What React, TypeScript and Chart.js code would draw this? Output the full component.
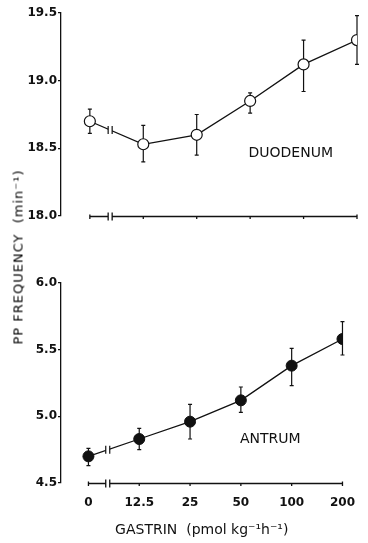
import React, { useEffect, useRef } from 'react';
import { Chart, registerables } from 'chart.js';

Chart.register(...registerables);

// ---- data ----
const doses = ['0', '12.5', '25', '50', '100', '200'];

const duodenumMean = [18.70, 18.53, 18.60, 18.85, 19.12, 19.30];
const duodenumUpper = [18.79, 18.67, 18.75, 18.91, 19.30, 19.48];
const duodenumLower = [18.61, 18.40, 18.45, 18.76, 18.92, 19.12];

const antrumMean = [4.70, 4.83, 4.96, 5.12, 5.38, 5.58];
const antrumUpper = [4.76, 4.91, 5.09, 5.22, 5.51, 5.71];
const antrumLower = [4.63, 4.75, 4.83, 5.03, 5.23, 5.46];

const duodenumTicks = [18.0, 18.5, 19.0, 19.5];
const antrumTicks = [4.5, 5.0, 5.5, 6.0];

const duodenumLabel = 'DUODENUM';
const antrumLabel = 'ANTRUM';
const yTitle = 'PP FREQUENCY\u00a0\u00a0(min\u207b\u00b9)';
const xTitle = 'GASTRIN\u00a0\u00a0(pmol kg\u207b\u00b9h\u207b\u00b9)';

// ---- style ----
const FONT = "'DejaVu Sans', sans-serif";
const INK = '#111';
const BREAK_AT = 0.38; // axis-break position, in category units
const X_MIN = -0.54;
const X_MAX = 5;

function decorPlugin(mean: number[], upper: number[], lower: number[], label: string, labelX: number, labelY: number) {
  return {
    id: 'decor',
    beforeDatasetsDraw(chart: any) {
      const { ctx } = chart;
      const xs = chart.scales.x;
      const ys = chart.scales.y;
      ctx.save();
      ctx.strokeStyle = INK;
      ctx.lineWidth = 1.2;
      upper.forEach((u, i) => {
        const px = xs.getPixelForValue(i);
        const pt = ys.getPixelForValue(u);
        const pb = ys.getPixelForValue(lower[i]);
        ctx.beginPath();
        ctx.moveTo(px, pt);
        ctx.lineTo(px, pb);
        ctx.moveTo(px - 2, pt);
        ctx.lineTo(px + 2, pt);
        ctx.moveTo(px - 2, pb);
        ctx.lineTo(px + 2, pb);
        ctx.stroke();
      });
      ctx.restore();
    },
    afterDatasetsDraw(chart: any) {
      const { ctx, chartArea } = chart;
      const xs = chart.scales.x;
      const ys = chart.scales.y;
      ctx.save();
      // break on the data line
      const x0 = xs.getPixelForValue(0);
      const x1 = xs.getPixelForValue(1);
      const y0 = ys.getPixelForValue(mean[0]);
      const y1 = ys.getPixelForValue(mean[1]);
      const bx = xs.getPixelForValue(BREAK_AT);
      const by = y0 + ((bx - x0) / (x1 - x0)) * (y1 - y0);
      ctx.fillStyle = '#fff';
      ctx.fillRect(bx - 2, by - 4, 4, 8);
      ctx.strokeStyle = INK;
      ctx.lineWidth = 1.2;
      ctx.beginPath();
      ctx.moveTo(bx - 2, by - 4);
      ctx.lineTo(bx - 2, by + 4);
      ctx.moveTo(bx + 2, by - 4);
      ctx.lineTo(bx + 2, by + 4);
      ctx.stroke();

      // x axis line with break
      const ay = chartArea.bottom + 0.5;
      const xe = xs.getPixelForValue(doses.length - 1);
      ctx.lineWidth = 1.3;
      ctx.beginPath();
      ctx.moveTo(x0, ay);
      ctx.lineTo(bx - 2, ay);
      ctx.moveTo(bx + 2, ay);
      ctx.lineTo(xe, ay);
      ctx.moveTo(bx - 2, ay - 4);
      ctx.lineTo(bx - 2, ay + 4);
      ctx.moveTo(bx + 2, ay - 4);
      ctx.lineTo(bx + 2, ay + 4);
      doses.forEach((_, i) => {
        const px = xs.getPixelForValue(i);
        ctx.moveTo(px, ay - (i === 0 || i === doses.length - 1 ? 2 : 0));
        ctx.lineTo(px, ay + 2.5);
      });
      ctx.stroke();

      // panel label
      ctx.fillStyle = INK;
      ctx.font = `14px ${FONT}`;
      ctx.textAlign = 'center';
      ctx.textBaseline = 'middle';
      ctx.fillText(label, xs.getPixelForValue(labelX), ys.getPixelForValue(labelY));
      ctx.restore();
    },
  };
}

function yScale(ticks: number[]) {
  return {
    type: 'linear' as const,
    min: ticks[0],
    max: ticks[ticks.length - 1],
    afterBuildTicks: (s: any) => {
      s.ticks = ticks.map((v) => ({ value: v }));
    },
    afterFit: (s: any) => {
      s.width = 61;
    },
    border: { display: true, color: INK, width: 1.3 },
    grid: { drawOnChartArea: false, drawTicks: true, tickLength: 3, color: INK, lineWidth: 1.2 },
    ticks: {
      padding: 1,
      color: INK,
      font: { family: FONT, size: 12, weight: 'bold' as const },
      callback: (v: any) => Number(v).toFixed(1),
    },
  };
}

export default function App() {
  const topRef = useRef<HTMLCanvasElement>(null);
  const botRef = useRef<HTMLCanvasElement>(null);

  useEffect(() => {
    const top = new Chart(topRef.current as HTMLCanvasElement, {
      type: 'line',
      data: {
        datasets: [
          {
            data: duodenumMean.map((v, i) => ({ x: i, y: v })),
            borderColor: INK,
            borderWidth: 1.3,
            pointRadius: 5.5,
            pointBackgroundColor: '#fff',
            pointBorderColor: INK,
            pointBorderWidth: 1.2,
            tension: 0,
          },
        ],
      },
      options: {
        responsive: false,
        animation: false,
        devicePixelRatio: 1,
        layout: { padding: { top: 13, bottom: 240 - 216, left: 0, right: 11 } },
        plugins: { legend: { display: false }, tooltip: { enabled: false } },
        scales: {
          x: { type: 'linear', min: X_MIN, max: X_MAX, display: false },
          y: yScale(duodenumTicks) as any,
        },
      },
      plugins: [decorPlugin(duodenumMean, duodenumUpper, duodenumLower, duodenumLabel, 3.76, 18.46)],
    });

    const bot = new Chart(botRef.current as HTMLCanvasElement, {
      type: 'line',
      data: {
        datasets: [
          {
            data: antrumMean.map((v, i) => ({ x: i, y: v })),
            borderColor: INK,
            borderWidth: 1.3,
            pointRadius: 5.5,
            pointBackgroundColor: INK,
            pointBorderColor: INK,
            pointBorderWidth: 1,
            tension: 0,
          },
        ],
      },
      options: {
        responsive: false,
        animation: false,
        devicePixelRatio: 1,
        layout: { padding: { top: 283 - 240, bottom: 0, left: 0, right: 11 } },
        plugins: { legend: { display: false }, tooltip: { enabled: false } },
        scales: {
          x: {
            type: 'linear',
            min: X_MIN,
            max: X_MAX,
            afterBuildTicks: (s: any) => {
              s.ticks = doses.map((_, i) => ({ value: i }));
            },
            afterFit: (s: any) => {
              s.height = 60;
            },
            border: { display: false },
            grid: { display: false, drawTicks: false },
            ticks: {
              autoSkip: false,
              maxRotation: 0,
              padding: 13,
              color: INK,
              font: { family: FONT, size: 12, weight: 'bold' },
              callback: (_v: any, i: number) => doses[i],
            },
            title: {
              display: true,
              text: xTitle,
              color: INK,
              font: { family: FONT, size: 14 },
              padding: { top: 4, bottom: 4 },
            },
          },
          y: yScale(antrumTicks) as any,
        },
      },
      plugins: [decorPlugin(antrumMean, antrumUpper, antrumLower, antrumLabel, 3.58, 4.83)],
    });

    return () => {
      top.destroy();
      bot.destroy();
    };
  }, []);

  return (
    <div style={{ position: 'fixed', left: 0, top: 0, width: 368, height: 543, background: '#fff' }}>
      <canvas ref={topRef} width={368} height={240} style={{ position: 'absolute', left: 0, top: 0 }} />
      <canvas ref={botRef} width={368} height={303} style={{ position: 'absolute', left: 0, top: 240 }} />
      <div
        style={{
          position: 'absolute',
          left: 18,
          top: 257,
          transform: 'translate(-50%, -50%) rotate(-90deg)',
          whiteSpace: 'nowrap',
          fontFamily: FONT,
          fontSize: 13,
          letterSpacing: '1px',
          color: '#000',
        }}
      >
        {yTitle}
      </div>
    </div>
  );
}
